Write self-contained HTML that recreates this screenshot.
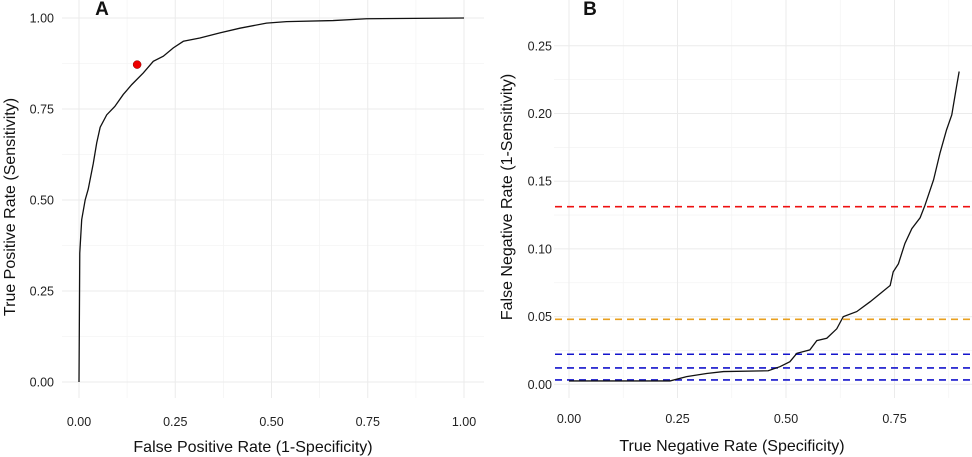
<!DOCTYPE html>
<html><head><meta charset="utf-8"><style>
html,body{margin:0;padding:0;background:#fff;}
svg{display:block;font-family:"Liberation Sans",Arial,sans-serif;}
</style></head><body>
<svg id="fig" width="972" height="457" viewBox="0 0 972 457"></svg>
<script>
// Panel A data: ROC curve
const rocFpr = [0,0.002,0.007,0.016,0.024,0.037,0.046,0.055,0.072,0.093,0.115,0.137,0.167,0.193,0.219,0.245,0.271,0.314,0.366,0.418,0.487,0.539,0.66,0.747,1];
const rocTpr = [0,0.354,0.446,0.50,0.53,0.60,0.657,0.70,0.734,0.757,0.79,0.817,0.849,0.881,0.895,0.918,0.936,0.945,0.959,0.972,0.986,0.990,0.993,0.998,1];
const optPoint = [0.151, 0.872];
const ticksA = [0,0.25,0.5,0.75,1];
const tickLabelsA = ["0.00","0.25","0.50","0.75","1.00"];
// Panel B data
const tnr = [0,0.233,0.271,0.317,0.356,0.459,0.486,0.509,0.525,0.555,0.571,0.594,0.617,0.632,0.663,0.694,0.717,0.740,0.747,0.759,0.774,0.790,0.809,0.820,0.840,0.855,0.870,0.882,0.893,0.899];
const fnr = [0.0025,0.0025,0.0057,0.008,0.0094,0.010,0.013,0.0167,0.0229,0.0254,0.0323,0.034,0.041,0.050,0.0537,0.061,0.067,0.073,0.083,0.089,0.104,0.115,0.123,0.132,0.151,0.171,0.188,0.199,0.220,0.231];
const hlineValues = [0.1312,0.048,0.0222,0.0121,0.0032];
const hlineColors = ["#ee1111","#e8a020","#1414cc","#1414cc","#1414cc"];
const xTicksB = [0,0.25,0.5,0.75];
const xTickLabelsB = ["0.00","0.25","0.50","0.75"];
const yTicksB = [0,0.05,0.1,0.15,0.2,0.25];
const yTickLabelsB = ["0.00","0.05","0.10","0.15","0.20","0.25"];

const NS="http://www.w3.org/2000/svg";
const svg=document.getElementById('fig');
function mk(tag,attrs,parent){const e=document.createElementNS(NS,tag);for(const k in attrs)e.setAttribute(k,attrs[k]);(parent||svg).appendChild(e);return e;}
function txt(s,attrs,parent){const e=mk('text',attrs,parent);e.textContent=s;return e;}

// scales
const xA=v=>79+v*385, yA=v=>382-v*364;
const xB=v=>569+v*434, yB=v=>384.3-v*1354;

// ---- Panel A ----
const gA=mk('g',{});


for(let v=0.125;v<1.1;v+=0.25){
  const l=mk('line',{x1:xA(v),x2:xA(v),y1:0,y2:398,stroke:'#f4f4f4','stroke-width':0.8},gA);
  
  const h=mk('line',{x1:62,x2:484,y1:yA(v),y2:yA(v),stroke:'#f4f4f4','stroke-width':0.8},gA);
  
}
ticksA.forEach((v,i)=>{
  const l=mk('line',{x1:xA(v),x2:xA(v),y1:0,y2:398,stroke:'#ebebeb','stroke-width':1},gA);
  
  const h=mk('line',{x1:62,x2:484,y1:yA(v),y2:yA(v),stroke:'#ebebeb','stroke-width':1},gA);
  
  const tx=txt(tickLabelsA[i],{x:xA(v),y:426,'text-anchor':'middle','font-size':12.5,fill:'#222'},gA);
  
  const ty=txt(tickLabelsA[i],{x:54,y:yA(v)+4.5,'text-anchor':'end','font-size':12.5,fill:'#222'},gA);
  
});
const pA=mk('polyline',{points:rocFpr.map((v,i)=>xA(v)+','+yA(rocTpr[i])).join(' '),fill:'none',stroke:'#111','stroke-width':1.3},gA);

const dot=mk('circle',{cx:xA(optPoint[0]),cy:yA(optPoint[1]),r:4,fill:'#e00',stroke:'#800','stroke-width':0.5},gA);

let t=txt('False Positive Rate (1-Specificity)',{x:253,y:452,'text-anchor':'middle','font-size':16,fill:'#111'},gA);

t=txt('True Positive Rate (Sensitivity)',{x:0,y:0,transform:'translate(15,207) rotate(-90)','text-anchor':'middle','font-size':16,fill:'#111'},gA);

t=txt('A',{x:102,y:15,'text-anchor':'middle','font-size':19,'font-weight':'bold',fill:'#111'},gA);


// ---- Panel B ----
const gB=mk('g',{});


for(let v=0.125;v<1;v+=0.25){
  const l=mk('line',{x1:xB(v),x2:xB(v),y1:0,y2:398,stroke:'#f4f4f4','stroke-width':0.8},gB);
  
}
for(let v=0.025;v<0.27;v+=0.05){
  const h=mk('line',{x1:554,x2:972,y1:yB(v),y2:yB(v),stroke:'#f4f4f4','stroke-width':0.8},gB);
  
}
xTicksB.forEach((v,i)=>{
  const l=mk('line',{x1:xB(v),x2:xB(v),y1:0,y2:398,stroke:'#ebebeb','stroke-width':1},gB);
  
  const tx=txt(xTickLabelsB[i],{x:xB(v),y:423,'text-anchor':'middle','font-size':12.5,fill:'#222'},gB);
  
});
yTicksB.forEach((v,i)=>{
  const h=mk('line',{x1:554,x2:972,y1:yB(v),y2:yB(v),stroke:'#ebebeb','stroke-width':1},gB);
  
  const ty=txt(yTickLabelsB[i],{x:552,y:yB(v)+4.5,'text-anchor':'end','font-size':12.5,fill:'#222'},gB);
  
});
hlineValues.forEach((v,i)=>{
  const h=mk('line',{x1:555,x2:972,y1:yB(v),y2:yB(v),stroke:hlineColors[i],'stroke-width':1.6,'stroke-dasharray':'7,5'},gB);
  
});
const pB=mk('polyline',{points:tnr.map((v,i)=>xB(v)+','+yB(fnr[i])).join(' '),fill:'none',stroke:'#111','stroke-width':1.3},gB);

t=txt('True Negative Rate (Specificity)',{x:732,y:451,'text-anchor':'middle','font-size':16,fill:'#111'},gB);

t=txt('False Negative Rate (1-Sensitivity)',{x:0,y:0,transform:'translate(512,197) rotate(-90)','text-anchor':'middle','font-size':16,fill:'#111'},gB);

t=txt('B',{x:590,y:15,'text-anchor':'middle','font-size':19,'font-weight':'bold',fill:'#111'},gB);

</script>
</body></html>
